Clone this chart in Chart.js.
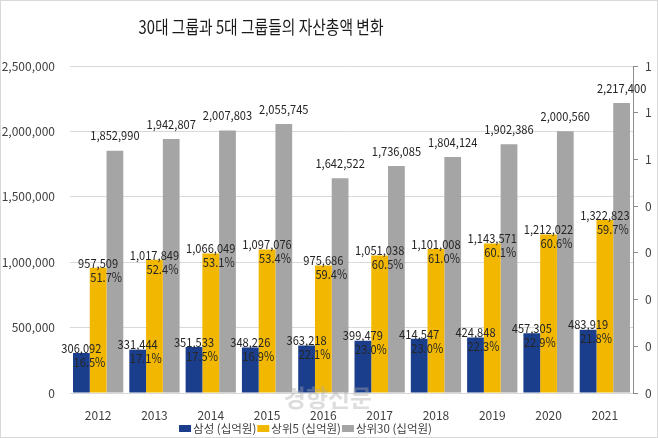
<!DOCTYPE html>
<html>
<head>
<meta charset="utf-8">
<script src="https://cdn.jsdelivr.net/npm/chart.js@4"></script>
<style>
  html, body { margin: 0; padding: 0; background: #fff; }
</style>
</head>
<body>
<canvas id="assetChart" width="658" height="438"></canvas>
<script>
// values (unit: 십억원)
const years = ['2012', '2013', '2014', '2015', '2016', '2017', '2018', '2019', '2020', '2021'];
const samsung = [306092, 331444, 351533, 348226, 363218, 399479, 414547, 424848, 457305, 483919];
const samsungShare = [16.5, 17.1, 17.5, 16.9, 22.1, 23.0, 23.0, 22.3, 22.9, 21.8];
const top5 = [957509, 1017849, 1066049, 1097076, 975686, 1051038, 1101008, 1143571, 1212022, 1322823];
const top5Share = [51.7, 52.4, 53.1, 53.4, 59.4, 60.5, 61.0, 60.1, 60.6, 59.7];
const top30 = [1852990, 1942807, 2007803, 2055745, 1642522, 1736085, 1804124, 1902386, 2000560, 2217400];
const shares = [samsungShare, top5Share, null];

const FONT = '"Noto Sans CJK KR", "Noto Sans", sans-serif';

// original uses a narrow font, so squeeze text horizontally
function narrowText(ctx, txt, x, y, sx) {
    ctx.save();
    ctx.translate(x, y);
    ctx.scale(sx, 1);
    ctx.fillText(txt, 0, 0);
    ctx.restore();
}

// labels, title, legend, frame and watermark are drawn by hand
const extras = {
    id: 'extras',
    afterDatasetsDraw(chart) {
        const ctx = chart.ctx;
        ctx.save();
        ctx.textAlign = 'center';
        ctx.textBaseline = 'middle';
        ctx.fillStyle = '#262626';
        ctx.font = '12.5px ' + FONT;
        chart.data.datasets.forEach((ds, di) => {
            const meta = chart.getDatasetMeta(di);
            meta.data.forEach((bar, i) => {
                const txt = ds.data[i].toLocaleString('en-US');
                if (shares[di]) {
                    narrowText(ctx, txt, bar.x, bar.y - 5, 0.89);
                    narrowText(ctx, shares[di][i].toFixed(1) + '%', bar.x + 8, bar.y + 9, 0.89);
                } else {
                    narrowText(ctx, txt, bar.x, bar.y - 15, 0.89);
                }
            });
        });
        ctx.restore();
    },
    afterDraw(chart) {
        const ctx = chart.ctx;
        ctx.save();

        // frame
        ctx.strokeStyle = '#d9d9d9';
        ctx.lineWidth = 1;
        ctx.strokeRect(0.5, 0.5, chart.width - 1, chart.height - 1);

        // title
        const title = '30대 그룹과 5대 그룹들의 자산총액 변화';
        ctx.font = '18px ' + FONT;
        ctx.fillStyle = '#1a1a1a';
        ctx.textAlign = 'center';
        ctx.textBaseline = 'middle';
        narrowText(ctx, title, 261, 27, 245 / ctx.measureText(title).width);

        // legend
        ctx.font = '11.5px ' + FONT;
        ctx.textAlign = 'left';
        const items = chart.data.datasets;
        let total = 0;
        items.forEach(ds => { total += 14 + ctx.measureText(ds.label).width + 1; });
        let x = 306 - total / 2;
        items.forEach(ds => {
            ctx.fillStyle = ds.backgroundColor;
            ctx.fillRect(x, 425, 12, 7);
            ctx.fillStyle = '#404040';
            ctx.fillText(ds.label, x + 14, 428.5);
            x += 14 + ctx.measureText(ds.label).width + 1;
        });

        // watermark
        ctx.font = 'bold 24px ' + FONT;
        ctx.textAlign = 'center';
        ctx.fillStyle = 'rgba(170,170,170,0.4)';
        ctx.fillText('경향신문', 328, 398);

        ctx.restore();
    }
};

new Chart(document.getElementById('assetChart'), {
    type: 'bar',
    data: {
        labels: years,
        datasets: [
            { label: '삼성 (십억원)', data: samsung, backgroundColor: '#1b3e8c' },
            { label: '상위5 (십억원)', data: top5, backgroundColor: '#f2b700' },
            { label: '상위30 (십억원)', data: top30, backgroundColor: '#a5a5a5' }
        ]
    },
    options: {
        responsive: false,
        animation: false,
        layout: { padding: { top: 66, left: 0, right: 0, bottom: 0 } },
        datasets: { bar: { categoryPercentage: 0.893, barPercentage: 1 } },
        plugins: {
            legend: { display: false },
            title: { display: false },
            tooltip: { enabled: false }
        },
        scales: {
            x: {
                grid: { display: false },
                border: { display: false },
                ticks: { color: '#404040', font: { family: FONT, size: 12 }, padding: 7 },
                afterFit: s => { s.height = 45; }
            },
            y: {
                position: 'left',
                min: 0,
                max: 2500000,
                ticks: {
                    stepSize: 500000,
                    padding: 15,
                    color: '#404040',
                    font: { family: FONT, size: 12 },
                    callback: v => v.toLocaleString('en-US')
                },
                grid: { color: '#d9d9d9', drawTicks: false },
                border: { display: false },
                afterFit: s => { s.width = 70; }
            },
            y2: {
                position: 'right',
                min: 0,
                max: 1.4,
                ticks: {
                    stepSize: 0.2,
                    padding: 7,
                    color: '#404040',
                    font: { family: FONT, size: 12 },
                    callback: v => Math.floor(v + 1e-6)
                },
                grid: { drawOnChartArea: false, color: '#8c8c8c', tickLength: 5 },
                border: { display: true, color: '#8c8c8c' },
                afterFit: s => { s.width = 25; }
            }
        }
    },
    plugins: [extras]
});
</script>
</body>
</html>
